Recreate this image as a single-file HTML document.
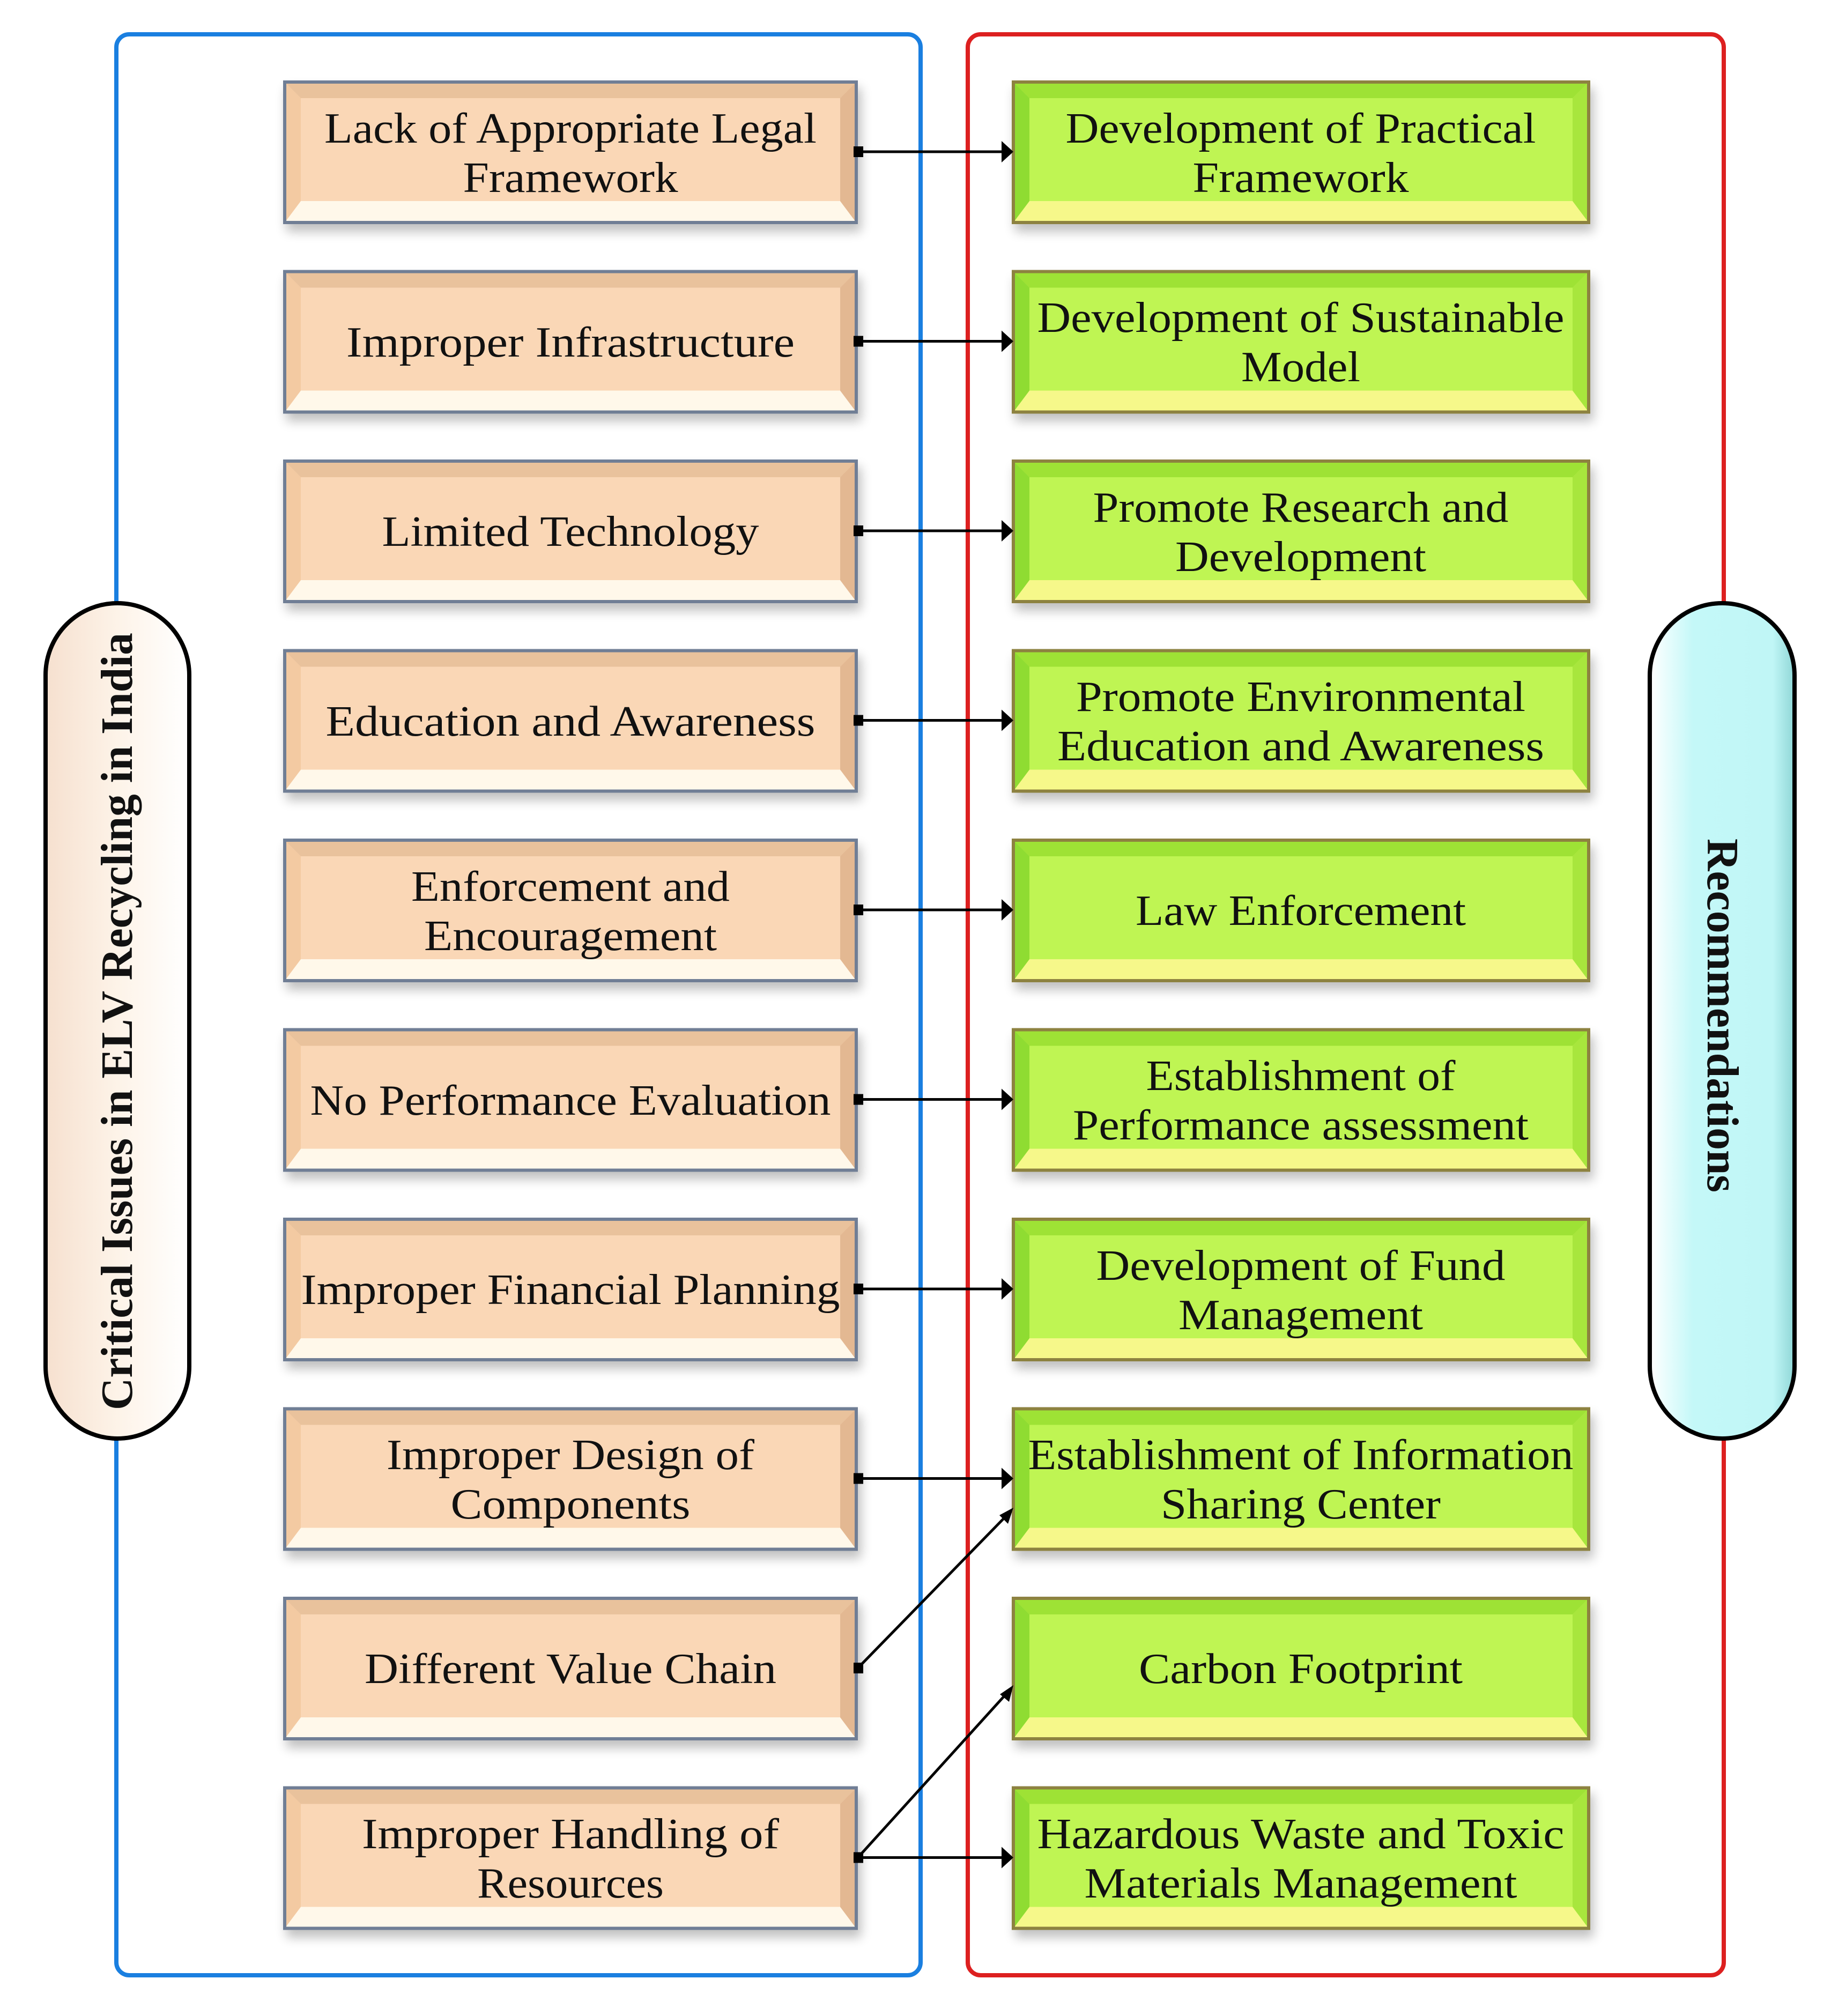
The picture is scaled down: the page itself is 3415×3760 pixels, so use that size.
<!DOCTYPE html>
<html><head><meta charset="utf-8">
<style>
html,body{margin:0;padding:0;background:#fff;}
svg{display:block;}
text{font-family:"Liberation Serif",serif;fill:#111;}
</style></head>
<body>
<svg width="3415" height="3760" viewBox="0 0 3415 3760" xmlns="http://www.w3.org/2000/svg">
<defs>
<filter id="sh" x="-10%" y="-10%" width="125%" height="135%"><feGaussianBlur in="SourceAlpha" stdDeviation="10"/><feOffset dx="6" dy="14"/><feComponentTransfer><feFuncA type="linear" slope="0.25"/></feComponentTransfer><feMerge><feMergeNode/><feMergeNode in="SourceGraphic"/></feMerge></filter>
<linearGradient id="lov" x1="0" x2="1" y1="0" y2="0"><stop offset="0" stop-color="#f6e0cf"/><stop offset="0.5" stop-color="#fdf3e8"/><stop offset="1" stop-color="#ffffff"/></linearGradient>
<linearGradient id="rov" x1="0" x2="1" y1="0" y2="0"><stop offset="0" stop-color="#ffffff"/><stop offset="0.3" stop-color="#c4f8f8"/><stop offset="0.85" stop-color="#c0f6f6"/><stop offset="1" stop-color="#8fd6d6"/></linearGradient>
<g id="pb">
<rect x="0" y="0" width="1066" height="262" fill="#fad7b6"/>
<polygon points="0,0 1066,0 1036,30 30,30" fill="#e9c29c"/>
<polygon points="0,262 1066,262 1036,222 30,222" fill="#fff8ea"/>
<polygon points="0,0 30,30 30,222 0,262" fill="#f3caa2"/>
<polygon points="1066,0 1036,30 1036,222 1066,262" fill="#e3b892"/>
<rect x="0" y="0" width="1066" height="262" fill="none" stroke="#6f7e95" stroke-width="6"/>
</g>
<g id="gb">
<rect x="0" y="0" width="1073" height="262" fill="#bff552"/>
<polygon points="0,0 1073,0 1043,30 30,30" fill="#9ee236"/>
<polygon points="0,262 1073,262 1043,222 30,222" fill="#f6f88a"/>
<polygon points="0,0 30,30 30,222 0,262" fill="#8fdc32"/>
<polygon points="1073,0 1043,30 1043,222 1073,262" fill="#a8e63e"/>
<rect x="0" y="0" width="1073" height="262" fill="none" stroke="#8d8240" stroke-width="6"/>
</g>
</defs>

<!-- frames -->
<rect x="217" y="64" width="1500" height="3620" rx="24" fill="none" stroke="#1a7fe0" stroke-width="8"/>
<rect x="1805" y="64" width="1410" height="3620" rx="24" fill="none" stroke="#dd2020" stroke-width="8"/>

<!-- left boxes -->
<g filter="url(#sh)">
<use href="#pb" x="531" y="153"/>
<use href="#pb" x="531" y="506.5"/>
<use href="#pb" x="531" y="860"/>
<use href="#pb" x="531" y="1213.5"/>
<use href="#pb" x="531" y="1567"/>
<use href="#pb" x="531" y="1920.5"/>
<use href="#pb" x="531" y="2274"/>
<use href="#pb" x="531" y="2627.5"/>
<use href="#pb" x="531" y="2981"/>
<use href="#pb" x="531" y="3334.5"/>
</g>
<g filter="url(#sh)">
<use href="#gb" x="1890" y="153"/>
<use href="#gb" x="1890" y="506.5"/>
<use href="#gb" x="1890" y="860"/>
<use href="#gb" x="1890" y="1213.5"/>
<use href="#gb" x="1890" y="1567"/>
<use href="#gb" x="1890" y="1920.5"/>
<use href="#gb" x="1890" y="2274"/>
<use href="#gb" x="1890" y="2627.5"/>
<use href="#gb" x="1890" y="2981"/>
<use href="#gb" x="1890" y="3334.5"/>
</g>

<!-- ovals -->
<rect x="85" y="1125" width="268" height="1558" rx="134" fill="url(#lov)" stroke="#000" stroke-width="8"/>
<rect x="3077" y="1125" width="270" height="1558" rx="135" fill="url(#rov)" stroke="#000" stroke-width="8"/>
<text transform="translate(246,1905) rotate(-90)" text-anchor="middle" font-size="84" font-weight="bold" textLength="1450" lengthAdjust="spacingAndGlyphs">Critical Issues in ELV Recycling in India</text>
<text transform="translate(3185,1894) rotate(90)" text-anchor="middle" font-size="84" font-weight="bold" textLength="660" lengthAdjust="spacingAndGlyphs">Recommendations</text>

<!-- connectors -->
<g stroke="#000" stroke-width="5" fill="none">
<line x1="1600" y1="283" x2="1870" y2="283"/>
<line x1="1600" y1="636.5" x2="1870" y2="636.5"/>
<line x1="1600" y1="990" x2="1870" y2="990"/>
<line x1="1600" y1="1343.5" x2="1870" y2="1343.5"/>
<line x1="1600" y1="1697" x2="1870" y2="1697"/>
<line x1="1600" y1="2050.5" x2="1870" y2="2050.5"/>
<line x1="1600" y1="2404" x2="1870" y2="2404"/>
<line x1="1600" y1="2757.5" x2="1870" y2="2757.5"/>
<line x1="1600" y1="3111" x2="1876" y2="2828"/>
<line x1="1600" y1="3464.5" x2="1876" y2="3160"/>
<line x1="1600" y1="3464.5" x2="1870" y2="3464.5"/>
</g>
<g fill="#000">
<rect x="1592" y="273" width="18" height="20"/><polygon points="1868,263 1890,283 1868,303"/>
<rect x="1592" y="626.5" width="18" height="20"/><polygon points="1868,616.5 1890,636.5 1868,656.5"/>
<rect x="1592" y="980" width="18" height="20"/><polygon points="1868,970 1890,990 1868,1010"/>
<rect x="1592" y="1333.5" width="18" height="20"/><polygon points="1868,1323.5 1890,1343.5 1868,1363.5"/>
<rect x="1592" y="1687" width="18" height="20"/><polygon points="1868,1677 1890,1697 1868,1717"/>
<rect x="1592" y="2040.5" width="18" height="20"/><polygon points="1868,2030.5 1890,2050.5 1868,2070.5"/>
<rect x="1592" y="2394" width="18" height="20"/><polygon points="1868,2384 1890,2404 1868,2424"/>
<rect x="1592" y="2747.5" width="18" height="20"/><polygon points="1868,2737.5 1890,2757.5 1868,2777.5"/>
<rect x="1592" y="3101" width="18" height="20"/><polygon points="1890,2812 1880,2842 1864,2826"/>
<rect x="1592" y="3454.5" width="18" height="20"/><polygon points="1890,3143 1882,3174 1865,3160"/><polygon points="1868,3444.5 1890,3464.5 1868,3484.5"/>
</g>

<!-- left texts -->
<g font-size="80" text-anchor="middle">
<text x="1064" y="266" textLength="918" lengthAdjust="spacingAndGlyphs">Lack of Appropriate Legal</text>
<text x="1064" y="358" textLength="401" lengthAdjust="spacingAndGlyphs">Framework</text>
<text x="1064" y="665" textLength="836" lengthAdjust="spacingAndGlyphs">Improper Infrastructure</text>
<text x="1064" y="1018" textLength="703" lengthAdjust="spacingAndGlyphs">Limited Technology</text>
<text x="1064" y="1372" textLength="913" lengthAdjust="spacingAndGlyphs">Education and Awareness</text>
<text x="1064" y="1680" textLength="594" lengthAdjust="spacingAndGlyphs">Enforcement and</text>
<text x="1064" y="1772" textLength="546" lengthAdjust="spacingAndGlyphs">Encouragement</text>
<text x="1064" y="2079" textLength="971" lengthAdjust="spacingAndGlyphs">No Performance Evaluation</text>
<text x="1064" y="2432" textLength="1005" lengthAdjust="spacingAndGlyphs">Improper Financial Planning</text>
<text x="1064" y="2740" textLength="686" lengthAdjust="spacingAndGlyphs">Improper Design of</text>
<text x="1064" y="2832" textLength="447" lengthAdjust="spacingAndGlyphs">Components</text>
<text x="1064" y="3139" textLength="768" lengthAdjust="spacingAndGlyphs">Different Value Chain</text>
<text x="1064" y="3447" textLength="778" lengthAdjust="spacingAndGlyphs">Improper Handling of</text>
<text x="1064" y="3539" textLength="348" lengthAdjust="spacingAndGlyphs">Resources</text>
</g>
<!-- right texts -->
<g font-size="80" text-anchor="middle">
<text x="2426" y="266" textLength="877" lengthAdjust="spacingAndGlyphs">Development of Practical</text>
<text x="2426" y="358" textLength="403" lengthAdjust="spacingAndGlyphs">Framework</text>
<text x="2426" y="619" textLength="983" lengthAdjust="spacingAndGlyphs">Development of Sustainable</text>
<text x="2426" y="711" textLength="222" lengthAdjust="spacingAndGlyphs">Model</text>
<text x="2426" y="973" textLength="775" lengthAdjust="spacingAndGlyphs">Promote Research and</text>
<text x="2426" y="1065" textLength="468" lengthAdjust="spacingAndGlyphs">Development</text>
<text x="2426" y="1326" textLength="838" lengthAdjust="spacingAndGlyphs">Promote Environmental</text>
<text x="2426" y="1418" textLength="908" lengthAdjust="spacingAndGlyphs">Education and Awareness</text>
<text x="2426" y="1725" textLength="616" lengthAdjust="spacingAndGlyphs">Law Enforcement</text>
<text x="2426" y="2033" textLength="577" lengthAdjust="spacingAndGlyphs">Establishment of</text>
<text x="2426" y="2125" textLength="850" lengthAdjust="spacingAndGlyphs">Performance assessment</text>
<text x="2426" y="2387" textLength="763" lengthAdjust="spacingAndGlyphs">Development of Fund</text>
<text x="2426" y="2479" textLength="456" lengthAdjust="spacingAndGlyphs">Management</text>
<text x="2426" y="2740" textLength="1017" lengthAdjust="spacingAndGlyphs">Establishment of Information</text>
<text x="2426" y="2832" textLength="522" lengthAdjust="spacingAndGlyphs">Sharing Center</text>
<text x="2426" y="3139" textLength="604" lengthAdjust="spacingAndGlyphs">Carbon Footprint</text>
<text x="2426" y="3447" textLength="983" lengthAdjust="spacingAndGlyphs">Hazardous Waste and Toxic</text>
<text x="2426" y="3539" textLength="807" lengthAdjust="spacingAndGlyphs">Materials Management</text>
</g>
</svg>
</body></html>
